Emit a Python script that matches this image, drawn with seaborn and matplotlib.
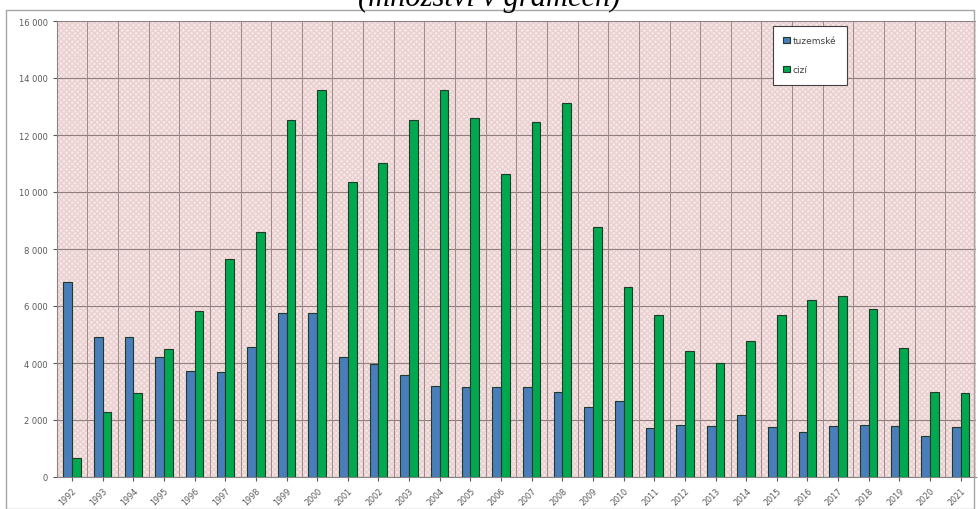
import matplotlib
matplotlib.use("Agg")
import matplotlib.pyplot as plt
import matplotlib.ticker as mticker
from matplotlib.patches import Rectangle
import seaborn as sns
import pandas as pd

years = [str(y) for y in range(1992, 2022)]
tuzemske = [6830, 4900, 4900, 4200, 3710, 3670, 4570, 5750, 5750, 4200,
            3950, 3580, 3200, 3150, 3150, 3150, 2990, 2450, 2660, 1730,
            1840, 1800, 2180, 1740, 1590, 1800, 1840, 1800, 1450, 1740]
cizi = [670, 2290, 2950, 4490, 5840, 7660, 8590, 12530, 13590, 10340,
        11030, 12530, 13590, 12590, 10630, 12470, 13120, 8780, 6660, 5680,
        4410, 3990, 4760, 5680, 6220, 6360, 5890, 4510, 2990, 2940]
series_names = ["tuzemské", "cizí"]
title_text = "(množství v gramech)"
yticks = list(range(0, 16001, 2000))

df = pd.DataFrame({
    "rok": years * 2,
    "hodnota": tuzemske + cizi,
    "typ": [series_names[0]] * len(years) + [series_names[1]] * len(years),
})

sns.set_style("white")
plt.rcParams["font.family"] = ["DejaVu Sans"]

fig = plt.figure(figsize=(9.79, 5.10), dpi=100)
W, H = 979, 510
ax = fig.add_axes([56.7 / W, (H - 478) / H, (976 - 56.7) / W, (478 - 22) / H])

# outer chart frame
fig.patches.append(Rectangle((6 / W, 0.0), (974 - 6) / W, (H - 11) / H,
                             transform=fig.transFigure, fill=False,
                             edgecolor="#a6a6a6", linewidth=1.0))

ax.set_facecolor("#f6e6e6")
bg = Rectangle((0, 0), 1, 1, transform=ax.transAxes, facecolor="none",
               edgecolor="#ead0d0", hatch="xxxxxx", linewidth=0, zorder=0)
ax.add_patch(bg)

palette = {series_names[0]: "#4a7ebb", series_names[1]: "#00a84f"}
sns.barplot(data=df, x="rok", y="hodnota", hue="typ", palette=palette,
            width=0.57, edgecolor="#1f3b2a", linewidth=0.8, saturation=1,
            ax=ax, zorder=3)

ax.set_ylim(0, 16000)
ax.set_xlim(-0.5, len(years) - 0.5)
ax.set_yticks(yticks)
ax.yaxis.set_major_formatter(mticker.FuncFormatter(
    lambda v, p: f"{int(v):,}".replace(",", " ")))
ax.set_xlabel("")
ax.set_ylabel("")

# grid lines
for y in yticks:
    ax.axhline(y, color="#8f7f7f", linewidth=0.8, zorder=1)
for i in range(len(years) + 1):
    ax.axvline(i - 0.5, color="#9a8a8a", linewidth=0.7, zorder=1)

ax.tick_params(axis="y", labelsize=6, colors="#595959", length=3, left=True)
ax.tick_params(axis="x", labelsize=5.8, colors="#595959", length=3, bottom=True,
               rotation=45)
for lab in ax.get_xticklabels():
    lab.set_ha("right")
    lab.set_rotation_mode("anchor")
for s in ["top", "right"]:
    ax.spines[s].set_visible(False)
ax.spines["left"].set_color("#868686")
ax.spines["bottom"].set_color("#868686")

leg = ax.legend(loc="upper left", bbox_to_anchor=((768 - 56.7) / (976 - 56.7), 1.0),
                frameon=True, fancybox=False, fontsize=6.5, labelspacing=2.2,
                handlelength=0.7, handleheight=0.7, handletextpad=0.3,
                borderpad=1.2, edgecolor="#404040", facecolor="white",
                framealpha=1.0)
leg.get_frame().set_linewidth(0.8)
for t in leg.get_texts():
    t.set_color("#404040")

fig.text(0.5, 1 - 6 / H, title_text, ha="center", va="baseline",
         fontsize=22, style="italic", family="Liberation Serif", color="#000000")

fig.savefig("out.png", dpi=100, facecolor="white")
